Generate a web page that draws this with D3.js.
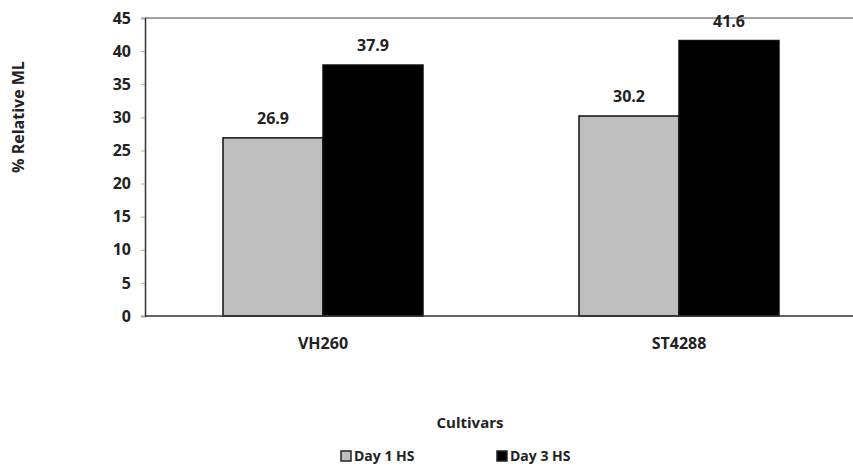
<!DOCTYPE html>
<html><head><meta charset="utf-8">
<script src="https://cdn.jsdelivr.net/npm/d3@7"></script>
<style>body{margin:0;background:#fff}text{font-family:"Open Sans",sans-serif;font-weight:bold;fill:#222}</style>
</head><body><svg id="c" width="853" height="468"></svg>
<script>
const categories = ["VH260", "ST4288"];
const seriesNames = ["Day 1 HS", "Day 3 HS"];
const day1 = [26.9, 30.2];
const day3 = [37.9, 41.6];
const yTicks = [0, 5, 10, 15, 20, 25, 30, 35, 40, 45];
const colors = ["#bebebe", "#000000"];

const svg = d3.select("#c");
const m = {l: 145, r: 853, t: 18, b: 316};
const x = d3.scaleBand().domain(categories).range([m.l, m.r + 4]).paddingInner(0).paddingOuter(0);
const y = d3.scaleLinear().domain([0, 45]).range([m.b, m.t]);
const xs = d3.scaleBand().domain(seriesNames).range([0, x.bandwidth()]).paddingInner(0).paddingOuter(0.78);

// top line at 45
svg.append("line").attr("x1", m.l).attr("x2", m.r).attr("y1", y(45)).attr("y2", y(45)).attr("stroke", "#444").attr("stroke-width", 1.2);

const yAxis = d3.axisLeft(y).tickValues(yTicks).tickSize(4).tickPadding(10);
const gy = svg.append("g").attr("transform", `translate(${m.l},0)`).call(yAxis);
gy.select(".domain").attr("stroke", "#333").attr("stroke-width", 1.5);
gy.selectAll(".tick line").attr("stroke", "#aaa");
gy.selectAll("text").style("font-size", "16px");

const data = categories.map((c, i) => ({c, vals: [day1[i], day3[i]]}));
const g = svg.append("g");
data.forEach(d => {
  d.vals.forEach((v, j) => {
    const bx = x(d.c) + xs(seriesNames[j]);
    g.append("rect").attr("x", bx).attr("y", y(v)).attr("width", xs.bandwidth()).attr("height", y(0) - y(v))
      .attr("fill", colors[j]).attr("stroke", "#111").attr("stroke-width", 1.5);
    g.append("text").attr("x", bx + xs.bandwidth() / 2).attr("y", y(v) - 14).attr("text-anchor", "middle")
      .style("font-size", "16px").text(v.toFixed(1));
  });
});

const xAxis = d3.axisBottom(x).tickSize(0).tickPadding(22);
const gx = svg.append("g").attr("transform", `translate(0,${m.b})`).call(xAxis);
gx.select(".domain").attr("stroke", "#333").attr("stroke-width", 1.5).attr("d", `M${m.l},0H${m.r}`);
gx.selectAll("text").style("font-size", "16px").attr("dx", 0);

svg.append("text").attr("transform", "translate(24,117) rotate(-90)").attr("text-anchor", "middle").style("font-size", "16px").text("% Relative ML");
svg.append("text").attr("x", 470).attr("y", 428).attr("text-anchor", "middle").style("font-size", "15px").text("Cultivars");

const leg = svg.append("g");
const legX = [341, 497];
seriesNames.forEach((s, i) => {
  leg.append("rect").attr("x", legX[i]).attr("y", 451).attr("width", 10).attr("height", 10)
    .attr("fill", colors[i]).attr("stroke", "#222").attr("stroke-width", 1.5);
  leg.append("text").attr("x", legX[i] + 13).attr("y", 461).style("font-size", "14px").text(s);
});
</script></body></html>
